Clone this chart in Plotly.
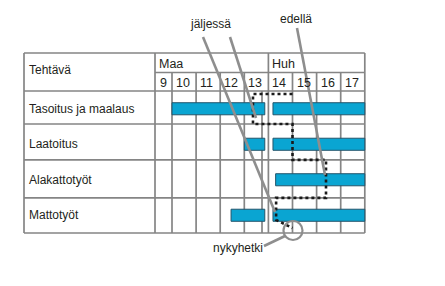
import plotly.graph_objects as go

# ---------------- data ----------------
tasks = ["Tasoitus ja maalaus", "Laatoitus", "Alakattotyöt", "Mattotyöt"]
weeks = [9, 10, 11, 12, 13, 14, 15, 16, 17]
months = ["Maa", "Huh"]
month_start_week = [9, 14]

bar_task = [0, 0, 1, 1, 2, 3, 3]
bar_start = [10.0, 14.19, 13.0, 14.19, 14.3, 12.45, 14.19]
bar_end = [13.85, 18.0, 13.85, 18.0, 18.0, 13.85, 18.0]

progress = [13.36, 15.0, 16.39, 14.32]   # progress position of each task (week)
now_week = 15.0

label_behind = "jäljessä"
label_ahead = "edellä"
label_now = "nykyhetki"

# ---------------- layout constants ----------------
W, H = 445, 286
PX_PER_WEEK = 24.1
WEEK10_PX = 172.0
ROW_PX = 35.5
BODY_TOP_PX = 91.0

def px2x(px):
    return 10 + (px - WEEK10_PX) / PX_PER_WEEK

def py2y(py):
    return -0.5 + (py - BODY_TOP_PX) / ROW_PX

X_RANGE = [px2x(0), px2x(W)]
Y_RANGE = [py2y(H), py2y(0)]

TABLE_LEFT = px2x(24)
FIRST_COL_LEFT = px2x(155)
TABLE_RIGHT = 18.0
TABLE_TOP = py2y(53)
MONTH_BOTTOM = py2y(72.5)
HEADER_BOTTOM = -0.5
ROW_EDGES = [-0.5, 0.43, 1.44, 2.51, 3.5]
EXTRA_LINE = px2x(262)

GRID = "#858585"
GW = 1.7
TXT = "#231f20"
FONT = "Liberation Sans, Arial, Helvetica, sans-serif"
BAR_FILL = "#0aa5d2"
BAR_LINE = "#23556b"
POINTER = "#8e8e8e"

fig = go.Figure()

# bars
fig.add_trace(go.Bar(
    y=bar_task,
    x=[e - s for s, e in zip(bar_start, bar_end)],
    base=bar_start,
    orientation="h",
    width=0.34,
    marker=dict(color=BAR_FILL, line=dict(color=BAR_LINE, width=1)),
    hoverinfo="skip",
))

# progress (dotted) line
top_y = py2y(94)
bot1 = py2y(220)
bot2 = py2y(228)
xs = [now_week]
ys = [top_y]
for i, p in enumerate(progress):
    y_a = top_y if i == 0 else ROW_EDGES[i]
    xs += [p, p]
    ys += [y_a, ROW_EDGES[i + 1] if i < len(progress) - 1 else bot1]
xs.append(now_week)
ys.append(bot2)
fig.add_trace(go.Scatter(
    x=xs, y=ys, mode="lines",
    line=dict(color="#1a1a1a", width=2.6, dash="dot"),
    hoverinfo="skip",
))

shapes = []

def hline(y, x0, x1):
    shapes.append(dict(type="line", x0=x0, x1=x1, y0=y, y1=y, xref="x", yref="y",
                       line=dict(color=GRID, width=GW), layer="below"))

def vline(x, y0, y1):
    shapes.append(dict(type="line", x0=x, x1=x, y0=y0, y1=y1, xref="x", yref="y",
                       line=dict(color=GRID, width=GW), layer="below"))

for y in [TABLE_TOP, HEADER_BOTTOM] + ROW_EDGES[1:]:
    hline(y, TABLE_LEFT, TABLE_RIGHT)
hline(MONTH_BOTTOM, FIRST_COL_LEFT, TABLE_RIGHT)

vline(TABLE_LEFT, TABLE_TOP, ROW_EDGES[-1])
vline(FIRST_COL_LEFT, TABLE_TOP, ROW_EDGES[-1])
vline(TABLE_RIGHT, TABLE_TOP, ROW_EDGES[-1])
for ms in month_start_week[1:]:
    vline(ms, TABLE_TOP, ROW_EDGES[-1])
for w in weeks[1:]:
    if w not in month_start_week:
        vline(w, MONTH_BOTTOM, ROW_EDGES[-1])
vline(EXTRA_LINE, HEADER_BOTTOM, ROW_EDGES[-1])

# pointer lines
def pline(p0, p1):
    shapes.append(dict(type="line", x0=px2x(p0[0]), y0=py2y(p0[1]),
                       x1=px2x(p1[0]), y1=py2y(p1[1]), xref="x", yref="y",
                       line=dict(color=POINTER, width=2.6), layer="above"))

pline((203, 37), (275, 212))
pline((230, 37), (256, 118))
pline((297, 28), (325, 175))
pline((264, 246), (285, 236))
shapes.append(dict(type="circle", xref="x", yref="y",
                   x0=px2x(283.5), x1=px2x(302.5), y0=py2y(221), y1=py2y(240),
                   line=dict(color=POINTER, width=2.2), layer="above"))

annotations = []

def text(x, y, s, anchor="left", size=12, xshift=0, yshift=0):
    annotations.append(dict(x=x, y=y, text=s, showarrow=False, xref="x", yref="y",
                            xanchor=anchor, yanchor="middle",
                            xshift=xshift, yshift=yshift,
                            font=dict(family=FONT, size=size, color=TXT)))

text(px2x(27), (TABLE_TOP + HEADER_BOTTOM) / 2, "Tehtävä", yshift=2)
for i, t in enumerate(tasks):
    text(px2x(27), i, t, yshift=0)
for m, ms in zip(months, month_start_week):
    left = FIRST_COL_LEFT if ms == weeks[0] else ms
    text(left, (TABLE_TOP + MONTH_BOTTOM) / 2, m, xshift=2, yshift=-1, size=12.5)
for w in weeks:
    left = FIRST_COL_LEFT if w == weeks[0] else w
    text(left, (MONTH_BOTTOM + HEADER_BOTTOM) / 2, str(w),
         xshift=3 if w == weeks[0] else 2, yshift=-1, size=12.5)

text(px2x(210), py2y(24), label_behind, anchor="center")
text(px2x(296), py2y(19), label_ahead, anchor="center")
text(px2x(237.5), py2y(248), label_now, anchor="center")

fig.update_layout(
    width=W, height=H,
    margin=dict(l=0, r=0, t=0, b=0, pad=0),
    paper_bgcolor="white", plot_bgcolor="white",
    showlegend=False,
    barmode="overlay",
    xaxis=dict(range=X_RANGE, visible=False, fixedrange=True),
    yaxis=dict(range=Y_RANGE, visible=False, fixedrange=True),
    shapes=shapes,
    annotations=annotations,
)

fig.write_html("out.html")
